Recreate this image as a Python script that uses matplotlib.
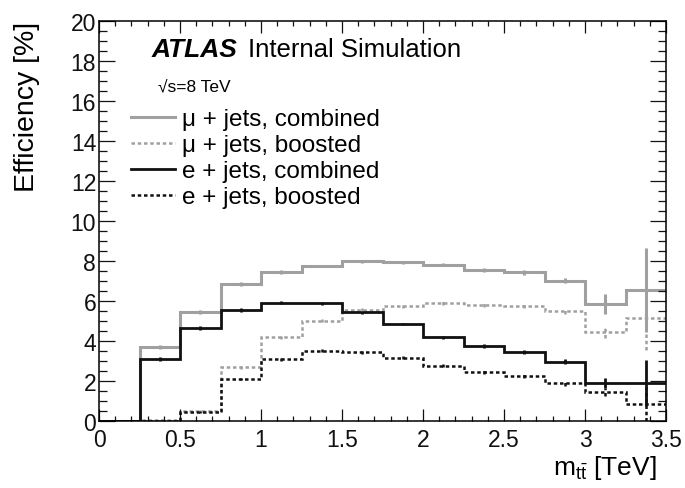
import numpy as np
import matplotlib
matplotlib.use("Agg")
import matplotlib.pyplot as plt
from matplotlib.lines import Line2D
from matplotlib.ticker import MultipleLocator, FormatStrFormatter

# bins in m_tt [TeV]
edges = np.arange(0.0, 3.75, 0.25)
centers = 0.5 * (edges[:-1] + edges[1:])

# efficiencies [%] per bin
mu_comb = [0.0, 3.7, 5.45, 6.85, 7.45, 7.75, 7.98, 7.93, 7.82, 7.55, 7.43, 7.02, 5.85, 6.57]
mu_comb_err = [0.0, 0.08, 0.08, 0.08, 0.08, 0.06, 0.06, 0.06, 0.08, 0.08, 0.13, 0.12, 0.5, 2.1]
mu_boost = [0.0, 0.03, 0.48, 2.68, 4.18, 5.02, 5.57, 5.73, 5.9, 5.82, 5.77, 5.48, 4.43, 5.15]
mu_boost_err = [0.0, 0.03, 0.05, 0.08, 0.08, 0.08, 0.08, 0.08, 0.1, 0.1, 0.12, 0.15, 0.3, 1.6]
e_comb = [0.0, 3.1, 4.65, 5.55, 5.92, 5.88, 5.43, 4.85, 4.18, 3.75, 3.43, 2.97, 1.9, 1.9]
e_comb_err = [0.0, 0.08, 0.08, 0.08, 0.06, 0.06, 0.06, 0.06, 0.08, 0.08, 0.1, 0.12, 0.27, 1.15]
e_boost = [0.0, 0.02, 0.45, 2.1, 3.08, 3.52, 3.43, 3.17, 2.77, 2.45, 2.23, 1.88, 1.47, 0.85]
e_boost_err = [0.0, 0.03, 0.05, 0.06, 0.06, 0.06, 0.06, 0.08, 0.08, 0.08, 0.1, 0.12, 0.2, 0.85]

labels = [u"\u03bc + jets, combined", u"\u03bc + jets, boosted",
          "e + jets, combined", "e + jets, boosted"]

GREY = "#a0a0a0"
BLACK = "#111111"
DOTS = (0, (1.4, 1.1))

plt.rcParams["font.family"] = ["Liberation Sans", "DejaVu Sans"]
plt.rcParams["mathtext.fontset"] = "custom"
plt.rcParams["mathtext.rm"] = "Liberation Sans"
plt.rcParams["mathtext.it"] = "Liberation Sans:italic"
plt.rcParams["mathtext.bf"] = "Liberation Sans:bold"

fig = plt.figure(figsize=(6.85, 4.89), dpi=100)
ax = fig.add_axes([99 / 685, 1 - 422 / 489, 567 / 685, 400 / 489])

series = [
    (mu_comb, mu_comb_err, GREY, 2.2, "-"),
    (mu_boost, mu_boost_err, GREY, 1.8, DOTS),
    (e_comb, e_comb_err, BLACK, 2.0, "-"),
    (e_boost, e_boost_err, BLACK, 1.8, DOTS),
]
handles = []
for vals, errs, col, lw, ls in series:
    ax.stairs(vals, edges, baseline=None, color=col, lw=lw, linestyle=ls)
    eb = ax.errorbar(centers, vals, yerr=errs, fmt="none", ecolor=col,
                     elinewidth=lw, capsize=0)
    eb[2][0].set_linestyle(ls)
    handles.append(Line2D([], [], color=col, lw=lw, linestyle=ls))

ax.set_xlim(0, 3.5)
ax.set_ylim(0, 20)
ax.xaxis.set_major_locator(MultipleLocator(0.5))
ax.xaxis.set_minor_locator(MultipleLocator(0.1))
ax.xaxis.set_major_formatter(FormatStrFormatter("%g"))
ax.yaxis.set_major_locator(MultipleLocator(2))
ax.yaxis.set_minor_locator(MultipleLocator(0.5))

ax.tick_params(which="both", direction="in", top=True, right=True,
               width=0.9, labelsize=16.5, colors="#111111")
ax.tick_params(axis="x", which="major", length=8.6, pad=5)
ax.tick_params(axis="x", which="minor", length=3.6)
ax.tick_params(axis="y", which="major", length=11.5, pad=2)
ax.tick_params(axis="y", which="minor", length=5.8)
for sp in ax.spines.values():
    sp.set_linewidth(1.1)

ax.set_ylabel("Efficiency [%]", fontsize=20.5, loc="top")
ax.yaxis.set_label_coords(-0.104, 1.0)
ax.set_xlabel(r"m$_{\mathrm{t\bar{t}}}$ [TeV]", fontsize=19, loc="right")
ax.xaxis.set_label_coords(0.984, -0.08)

ax.text(0.093, 0.9125, "ATLAS", fontsize=19, fontweight="bold",
        fontstyle="italic", transform=ax.transAxes)
ax.text(0.263, 0.9125, "Internal Simulation", fontsize=18.5,
        transform=ax.transAxes)
ax.text(0.104, 0.8275, u"\u221as=8 TeV", fontsize=12.5,
        family=["Liberation Sans", "DejaVu Sans"], transform=ax.transAxes)

ax.legend(handles, labels, loc="upper left", bbox_to_anchor=(0.056, 0.782),
          frameon=False, fontsize=17.5, handlelength=1.8, handletextpad=0.3,
          labelspacing=0.165, borderaxespad=0, borderpad=0)

fig.savefig("out.png", dpi=100)
